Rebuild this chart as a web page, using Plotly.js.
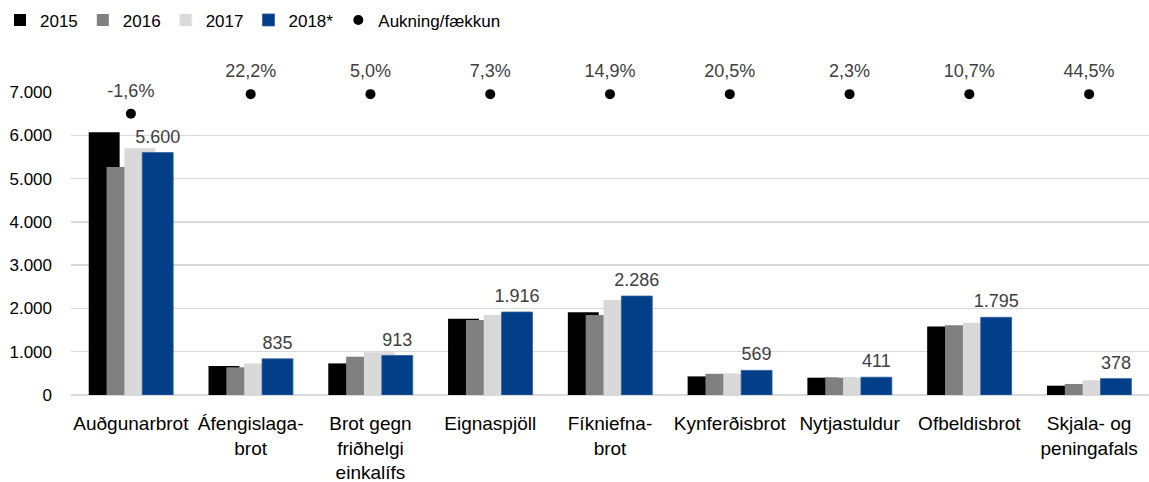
<!DOCTYPE html>
<html><head><meta charset="utf-8">
<script src="https://cdn.plot.ly/plotly-3.0.1.min.js"></script>
<style>body{margin:0;padding:0;background:#fff}#c{width:1149px;height:482px}</style>
</head><body><div id="c"></div>
<script>
const categories = ["Auðgunarbrot","Áfengislaga-<br>brot","Brot gegn<br>friðhelgi<br>einkalífs","Eignaspjöll","Fíkniefna-<br>brot","Kynferðisbrot","Nytjastuldur","Ofbeldisbrot","Skjala- og<br>peningafals"];
const seriesNames = ["2015","2016","2017","2018*"];
const v2015 = [6070, 670, 730, 1760, 1910, 430, 400, 1585, 215];
const v2016 = [5270, 640, 885, 1735, 1850, 490, 400, 1610, 255];
const v2017 = [5700, 730, 985, 1850, 2195, 490, 400, 1670, 340];
const v2018 = [5600, 835, 913, 1916, 2286, 569, 411, 1795, 378];
const changeLabels = ["-1,6%","22,2%","5,0%","7,3%","14,9%","20,5%","2,3%","10,7%","44,5%"];
const changeLevel = [6500, 6950, 6950, 6950, 6950, 6950, 6950, 6950, 6950];
const changeName = "Aukning/fækkun";

const colors = ["#000000","#808080","#D9D9D9","#023F88"];
const offsets = [-0.352,-0.203,-0.054,0.095];
const BW = 0.258;
const fmt = v => String(v).replace(/\B(?=(\d{3})+(?!\d))/g, ".");
const FONT = "Liberation Sans, Arial, sans-serif";
const allSeries = [v2015,v2016,v2017,v2018];
const traces = allSeries.map((vals,i)=>({
  type:'bar', name: seriesNames[i], x: categories, y: vals,
  marker:{color: colors[i], line:{width: i===3?0.8:0, color: i===3?'#2F5FA0':colors[i]}},
  offset: offsets[i], width: BW, hoverinfo:'skip'
}));
traces.push({
  type:'scatter', mode:'markers+text', xaxis:'x2', showlegend:false,
  x: v2018.map((_,k)=>k + offsets[3] + BW/2), y: v2018,
  marker:{size:7,opacity:0}, text: v2018.map(fmt), textposition:'top center',
  textfont:{size:18,color:'#404040',family:FONT}, cliponaxis:false, hoverinfo:'skip'
});
traces.push({
  type:'scatter', mode:'markers', name: changeName, x: categories, y: changeLevel,
  marker:{color:'#000', size:10}, cliponaxis:false, hoverinfo:'skip'
});
traces.push({
  type:'scatter', mode:'markers+text', showlegend:false, x: categories, y: changeLevel,
  marker:{size:18,opacity:0}, text: changeLabels, textposition:'top center',
  textfont:{size:18,color:'#404040',family:FONT}, cliponaxis:false, hoverinfo:'skip'
});
const layout = {
  width:1149, height:482, paper_bgcolor:'#fff', plot_bgcolor:'#fff',
  margin:{l:71,r:0,t:92,b:87},
  barmode:'overlay', separators:',.',
  font:{family:FONT,size:16,color:'#000'},
  showlegend:true,
  legend:{orientation:'h',x:0,xref:'container',y:0.995,yref:'container',yanchor:'top',xanchor:'left',
    font:{size:17,family:FONT,color:'#000'},itemwidth:30,tracegroupgap:0,traceorder:'normal'},
  xaxis:{type:'category',range:[-0.5,8.5],showgrid:false,zeroline:false,showline:false,ticks:'',
    tickfont:{size:19,family:FONT,color:'#000'},ticklabelstandoff:15,fixedrange:true},
  xaxis2:{overlaying:'x',range:[-0.5,8.5],visible:false,fixedrange:true},
  yaxis:{range:[0,7000],dtick:1000,tickformat:',d',showgrid:true,gridcolor:'#D9D9D9',gridwidth:1.3,
    zeroline:true,zerolinecolor:'#D9D9D9',zerolinewidth:1.3,showline:false,ticks:'',
    tickfont:{size:17,family:FONT,color:'#000'},ticklabelstandoff:18,fixedrange:true}
};
Plotly.newPlot('c', traces, layout, {displayModeBar:false,staticPlot:true});
</script></body></html>
